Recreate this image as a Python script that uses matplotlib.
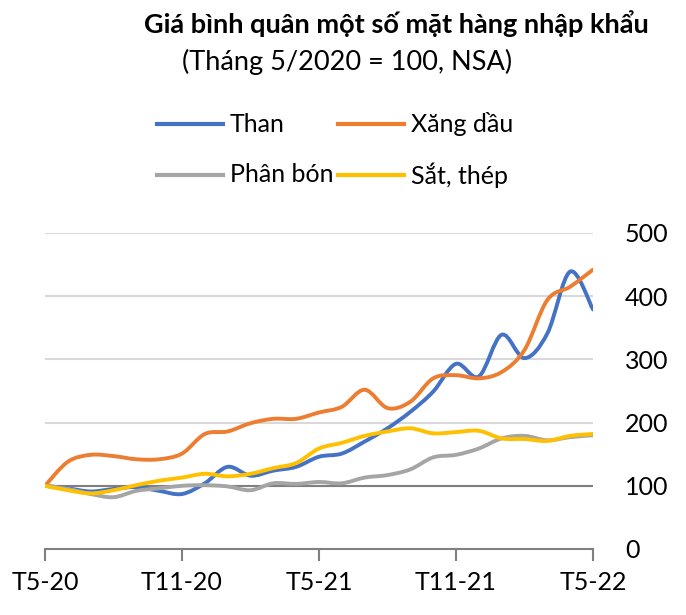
import matplotlib
matplotlib.use("Agg")
import matplotlib.pyplot as plt
from matplotlib.path import Path
from matplotlib.patches import PathPatch
from matplotlib.lines import Line2D
import numpy as np

plt.rcParams['font.family'] = ['Lato', 'DejaVu Sans']

# ---------------- data (index, T5/2020 = 100) ----------------
months = list(range(25))   # T5-20 ... T5-22
tick_pos = [0, 6, 12, 18, 24]
tick_labels = ['T5-20', 'T11-20', 'T5-21', 'T11-21', 'T5-22']

than = [100, 96, 91, 95, 98, 92, 87, 104, 130, 116, 124, 130, 146,
        151, 170, 191, 217, 249, 293, 273, 339, 302, 341, 439, 379]
xang_dau = [100, 138, 149, 147, 142, 142, 151, 182, 186, 199, 206, 206, 216,
            225, 252, 223, 233, 270, 275, 270, 280, 315, 394, 415, 442]
phan_bon = [100, 95, 87, 82, 92, 96, 100, 101, 99, 93, 104, 103, 106,
            104, 113, 117, 126, 145, 149, 159, 175, 179, 172, 177, 180]
sat_thep = [100, 93, 88, 93, 101, 108, 113, 119, 115, 119, 128, 136, 159,
            168, 179, 186, 191, 183, 185, 187, 175, 174, 171, 179, 182]

series = [('Than', than, '#4472C4'),
          ('Xăng dầu', xang_dau, '#ED7D31'),
          ('Phân bón', phan_bon, '#A5A5A5'),
          ('Sắt, thép', sat_thep, '#FFC000')]


def smooth_path(x, y):
    # excel-like smoothed line (bezier through the points)
    x = np.asarray(x, float)
    y = np.asarray(y, float)
    n = len(x)
    verts = [(x[0], y[0])]
    codes = [Path.MOVETO]
    for i in range(n - 1):
        x0, y0 = (x[i - 1], y[i - 1]) if i > 0 else (x[i], y[i])
        x3, y3 = (x[i + 2], y[i + 2]) if i + 2 < n else (x[i + 1], y[i + 1])
        c1 = (x[i] + (x[i + 1] - x0) / 6, y[i] + (y[i + 1] - y0) / 6)
        c2 = (x[i + 1] - (x3 - x[i]) / 6, y[i + 1] - (y3 - y[i]) / 6)
        verts += [c1, c2, (x[i + 1], y[i + 1])]
        codes += [Path.CURVE4] * 3
    return Path(verts, codes)


fig = plt.figure(figsize=(6.86, 6.15), dpi=100)
ax = fig.add_axes([45 / 686, 1 - 549 / 615, 548 / 686, 316 / 615])

ax.set_xlim(0, 24)
ax.set_ylim(0, 500)
ax.set_yticks([0, 100, 200, 300, 400, 500])
ax.yaxis.grid(True, color='#d9d9d9', lw=1.5)
ax.set_axisbelow(True)
ax.axhline(100, color='#808080', lw=1.5, zorder=1.5)

for name, vals, col in series:
    p = PathPatch(smooth_path(months, vals), fill=False, edgecolor=col,
                  lw=2.8, capstyle='round', joinstyle='round', zorder=3)
    ax.add_patch(p)

for s in ['top', 'left', 'right']:
    ax.spines[s].set_visible(False)
ax.spines['bottom'].set_color('#808080')
ax.spines['bottom'].set_linewidth(1.5)

ax.set_xticks(tick_pos)
ax.set_xticklabels(tick_labels)
ax.tick_params(axis='x', direction='out', length=8.6, width=1.5,
               color='#808080', pad=7, labelsize=18)
ax.yaxis.tick_right()
ax.tick_params(axis='y', length=0, pad=23, labelsize=18)

# title
fig.text(396 / 686, 1 - 24 / 615, 'Giá bình quân một số mặt hàng nhập khẩu',
         ha='center', va='center', fontsize=19.5, fontweight='bold')
fig.text(347 / 686, 1 - 62 / 615, '(Tháng 5/2020 = 100, NSA)',
         ha='center', va='center', fontsize=19.5)

# legend
leg_pos = [(157, 124), (338, 124), (157, 175), (338, 175)]
for (name, vals, col), (lx, ly) in zip(series, leg_pos):
    yy = 1 - ly / 615
    fig.add_artist(Line2D([lx / 686, (lx + 66) / 686], [yy, yy], color=col,
                          lw=3, transform=fig.transFigure))
    fig.text((lx + 73) / 686, yy, name, ha='left', va='center', fontsize=18)

fig.savefig('out.png', dpi=100)
